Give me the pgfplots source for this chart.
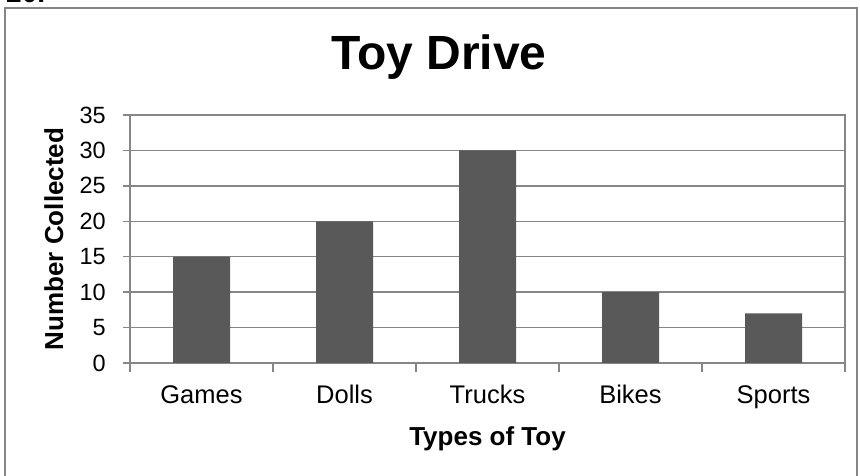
\documentclass[border=0pt]{standalone}
\usepackage{fontspec}
\setmainfont{Liberation Sans}
\usepackage{pgfplots}
\pgfplotsset{compat=1.18}
\definecolor{barc}{HTML}{595959}
\definecolor{axc}{HTML}{868686}
\begin{document}
\begin{tikzpicture}
\useasboundingbox (0,0) rectangle (860bp,476bp);
\draw[axc, line width=1.5bp] (5bp,-10bp) rectangle (857bp,468bp);
\node[anchor=base west, inner sep=0pt, font=\fontsize{28bp}{30bp}\selectfont\bfseries] at (6bp,473bp) {20.};
\begin{axis}[
  at={(130bp,113bp)}, anchor=south west,
  scale only axis, width=715bp, height=248bp,
  xmin=0.5, xmax=5.5, ymin=0, ymax=35,
  ytick={0,5,...,35},
  xtick={1,...,5},
  xticklabels={Games,Dolls,Trucks,Bikes,Sports},
  minor xtick={0.5,1.5,...,5.5},
  xtick pos=bottom, ytick pos=left,
  tick align=outside,
  major tick length=7bp, minor tick length=9bp,
  major x tick style={draw=none},
  ymajorgrids,
  major grid style={axc, line width=1.3bp},
  axis line style={axc, line width=1.3bp},
  tick style={axc, line width=1.3bp},
  /pgf/number format/assume math mode=true,
  yticklabel style={anchor=east, inner sep=0pt, xshift=-17bp, font=\fontsize{23.5bp}{25bp}\selectfont},
  xticklabel style={anchor=base, inner sep=0pt, yshift=-33bp, font=\fontsize{25.5bp}{27bp}\selectfont},
  xlabel={Types of Toy},
  xlabel style={at={(axis description cs:0.5,0)}, anchor=base, inner sep=0pt, yshift=-82bp, font=\fontsize{26bp}{28bp}\selectfont\bfseries},
  ylabel={Number Collected},
  ylabel style={at={([xshift=-67bp]axis description cs:0,0.5)}, anchor=base, inner sep=0pt, font=\fontsize{26bp}{28bp}\selectfont\bfseries},
]
\addplot[ybar, bar width=57bp, fill=barc, draw=none] coordinates {(1,15) (2,20) (3,30) (4,10) (5,7)};
\end{axis}
\node[anchor=base, inner sep=0pt, font=\fontsize{48bp}{50bp}\selectfont\bfseries] at (439bp,406bp) {Toy Drive};
\end{tikzpicture}
\end{document}
